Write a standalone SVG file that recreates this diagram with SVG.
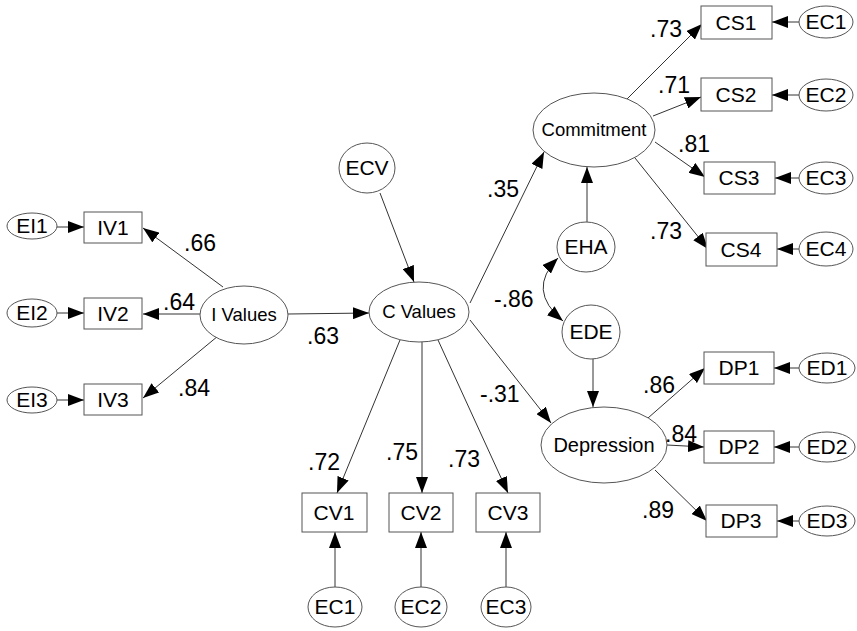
<svg xmlns="http://www.w3.org/2000/svg" width="857" height="631" viewBox="0 0 857 631">
<defs>
<marker id="ah" viewBox="0 0 16 12" refX="16" refY="6" markerWidth="16" markerHeight="12" markerUnits="userSpaceOnUse" orient="auto-start-reverse">
<path d="M0,0 L16,6 L0,12 z" fill="#000"/>
</marker>
<style>
.n{fill:#fff;stroke:#555;stroke-width:1}
.t{font-family:"Liberation Sans",Arial,sans-serif;font-size:21px;fill:#000;text-anchor:middle}
.s{font-size:18.5px}
.w{font-family:"Liberation Sans",Arial,sans-serif;font-size:23px;fill:#000}
.c{stroke:#333;stroke-width:1;fill:none;marker-end:url(#ah)}
</style>
</defs>
<rect width="857" height="631" fill="#fff"/>
<g id="connectors">
<line class="c" x1="57" y1="227" x2="84" y2="227"/>
<line class="c" x1="57" y1="313" x2="84" y2="313"/>
<line class="c" x1="57" y1="400" x2="84" y2="400"/>
<line class="c" x1="223" y1="287" x2="143" y2="228"/>
<line class="c" x1="200" y1="314" x2="143" y2="314"/>
<line class="c" x1="218" y1="336" x2="143" y2="398"/>
<line class="c" x1="288" y1="314" x2="369" y2="313"/>
<line class="c" x1="380" y1="193" x2="414" y2="282"/>
<line class="c" x1="470" y1="303" x2="544" y2="152"/>
<line class="c" x1="470" y1="320" x2="551" y2="423"/>
<line class="c" x1="400" y1="340" x2="337" y2="493"/>
<line class="c" x1="422" y1="342" x2="422" y2="493"/>
<line class="c" x1="438" y1="340" x2="508" y2="493"/>
<line class="c" x1="335" y1="587" x2="335" y2="532"/>
<line class="c" x1="421" y1="587" x2="421" y2="532"/>
<line class="c" x1="506" y1="587" x2="506" y2="532"/>
<line class="c" x1="627" y1="99" x2="702" y2="24"/>
<line class="c" x1="653" y1="116" x2="701" y2="97"/>
<line class="c" x1="655" y1="142" x2="705" y2="177"/>
<line class="c" x1="635" y1="158" x2="708" y2="249"/>
<line class="c" x1="587" y1="222" x2="587" y2="167"/>
<line class="c" x1="593" y1="359" x2="593" y2="407"/>
<line class="c" x1="648" y1="418" x2="705" y2="368"/>
<line class="c" x1="667" y1="445" x2="704" y2="447"/>
<line class="c" x1="655" y1="470" x2="707" y2="521"/>
<line class="c" x1="799" y1="22" x2="772" y2="22"/>
<line class="c" x1="799" y1="95" x2="772" y2="95"/>
<line class="c" x1="799" y1="178" x2="775" y2="178"/>
<line class="c" x1="799" y1="249" x2="777" y2="249"/>
<line class="c" x1="800" y1="368" x2="774" y2="368"/>
<line class="c" x1="800" y1="447" x2="774" y2="447"/>
<line class="c" x1="800" y1="521" x2="777" y2="521"/>
<path class="c" d="M558,258 Q526,290 563,321" style="marker-start:url(#ah)"/>
</g>
<g id="EI1"><ellipse class="n" cx="32" cy="226" rx="25" ry="13"/><text class="t" x="32" y="233">EI1</text></g>
<g id="EI2"><ellipse class="n" cx="32" cy="313" rx="25" ry="14"/><text class="t" x="32" y="320">EI2</text></g>
<g id="EI3"><ellipse class="n" cx="32" cy="400" rx="25" ry="13"/><text class="t" x="32" y="407">EI3</text></g>
<g id="IV1"><rect class="n" x="84" y="212" width="58" height="31"/><text class="t" x="113" y="235">IV1</text></g>
<g id="IV2"><rect class="n" x="84" y="298" width="58" height="31"/><text class="t" x="113" y="321">IV2</text></g>
<g id="IV3"><rect class="n" x="84" y="384" width="58" height="31"/><text class="t" x="113" y="407">IV3</text></g>
<g id="IValues"><ellipse class="n" cx="244" cy="315" rx="44" ry="29"/><text class="t s" x="244" y="321">I Values</text></g>
<g id="CValues"><ellipse class="n" cx="419" cy="312" rx="50" ry="30"/><text class="t s" x="419" y="318">C Values</text></g>
<g id="ECV"><ellipse class="n" cx="367" cy="168" rx="28" ry="25"/><text class="t" x="367" y="175">ECV</text></g>
<g id="Commitment"><ellipse class="n" cx="594" cy="130" rx="61" ry="37"/><text class="t s" x="594" y="136">Commitment</text></g>
<g id="EHA"><ellipse class="n" cx="586" cy="247" rx="29" ry="25"/><text class="t" x="586" y="254">EHA</text></g>
<g id="EDE"><ellipse class="n" cx="591" cy="332" rx="29" ry="27"/><text class="t" x="591" y="339">EDE</text></g>
<g id="Depression"><ellipse class="n" cx="604" cy="445" rx="63" ry="38"/><text class="t" x="604" y="452" style="font-size:20px">Depression</text></g>
<g id="CS1"><rect class="n" x="701" y="6" width="71" height="33"/><text class="t" x="736" y="30">CS1</text></g>
<g id="CS2"><rect class="n" x="701" y="78" width="71" height="33"/><text class="t" x="736" y="102">CS2</text></g>
<g id="CS3"><rect class="n" x="704" y="162" width="71" height="32"/><text class="t" x="739" y="185">CS3</text></g>
<g id="CS4"><rect class="n" x="706" y="233" width="71" height="33"/><text class="t" x="741" y="257">CS4</text></g>
<g id="EC1"><ellipse class="n" cx="826" cy="22" rx="27" ry="16"/><text class="t" x="826" y="29">EC1</text></g>
<g id="EC2"><ellipse class="n" cx="826" cy="95" rx="27" ry="16"/><text class="t" x="826" y="102">EC2</text></g>
<g id="EC3"><ellipse class="n" cx="826" cy="178" rx="27" ry="16"/><text class="t" x="826" y="185">EC3</text></g>
<g id="EC4"><ellipse class="n" cx="826" cy="249" rx="27" ry="17"/><text class="t" x="826" y="256">EC4</text></g>
<g id="DP1"><rect class="n" x="704" y="352" width="70" height="32"/><text class="t" x="739" y="375">DP1</text></g>
<g id="DP2"><rect class="n" x="704" y="431" width="70" height="32"/><text class="t" x="739" y="454">DP2</text></g>
<g id="DP3"><rect class="n" x="706" y="505" width="71" height="32"/><text class="t" x="741" y="528">DP3</text></g>
<g id="ED1"><ellipse class="n" cx="827" cy="368" rx="28" ry="15"/><text class="t" x="827" y="375">ED1</text></g>
<g id="ED2"><ellipse class="n" cx="827" cy="447" rx="28" ry="15"/><text class="t" x="827" y="454">ED2</text></g>
<g id="ED3"><ellipse class="n" cx="827" cy="521" rx="28" ry="15"/><text class="t" x="827" y="528">ED3</text></g>
<g id="CV1"><rect class="n" x="302" y="493" width="65" height="39"/><text class="t" x="334" y="520">CV1</text></g>
<g id="CV2"><rect class="n" x="389" y="493" width="64" height="39"/><text class="t" x="421" y="520">CV2</text></g>
<g id="CV3"><rect class="n" x="476" y="493" width="64" height="39"/><text class="t" x="508" y="520">CV3</text></g>
<g id="EC1b"><ellipse class="n" cx="335" cy="607" rx="27" ry="20"/><text class="t" x="335" y="614">EC1</text></g>
<g id="EC2b"><ellipse class="n" cx="421" cy="607" rx="26" ry="20"/><text class="t" x="421" y="614">EC2</text></g>
<g id="EC3b"><ellipse class="n" cx="506" cy="607" rx="25" ry="20"/><text class="t" x="506" y="614">EC3</text></g>
<g id="labels">
<text class="w" x="184" y="251">.66</text>
<text class="w" x="163" y="310">.64</text>
<text class="w" x="178" y="396">.84</text>
<text class="w" x="307" y="344">.63</text>
<text class="w" x="487" y="197">.35</text>
<text class="w" x="494" y="307">-.86</text>
<text class="w" x="480" y="402">-.31</text>
<text class="w" x="308" y="470">.72</text>
<text class="w" x="386" y="460">.75</text>
<text class="w" x="448" y="467">.73</text>
<text class="w" x="650" y="37">.73</text>
<text class="w" x="658" y="93">.71</text>
<text class="w" x="678" y="152">.81</text>
<text class="w" x="650" y="239">.73</text>
<text class="w" x="643" y="393">.86</text>
<text class="w" x="665" y="442">.84</text>
<text class="w" x="642" y="518">.89</text>
</g>
</svg>
